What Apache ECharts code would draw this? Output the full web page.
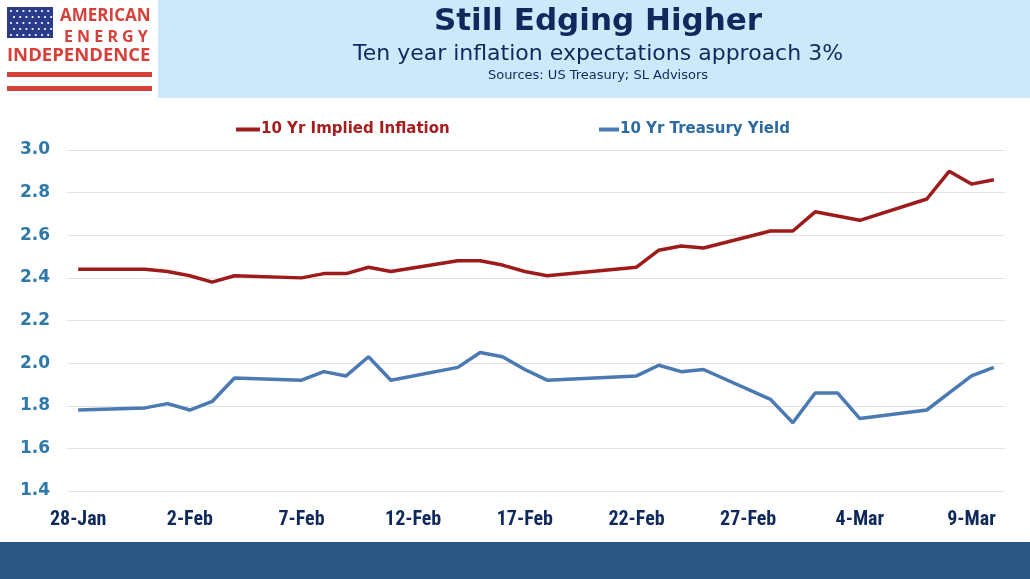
<!DOCTYPE html>
<html lang="en">
<head>
<meta charset="UTF-8">
<title>Still Edging Higher</title>
<script src="https://cdn.jsdelivr.net/npm/echarts@6/dist/echarts.min.js"></script>
<style>
  html, body { margin: 0; padding: 0; background: #fff; }
  #main { width: 1030px; height: 579px; }
</style>
</head>
<body>
<div id="main"></div>
<script>
// trading days (2022)
var dates = [
  '2022-01-28', '2022-01-31', '2022-02-01', '2022-02-02', '2022-02-03', '2022-02-04',
  '2022-02-07', '2022-02-08', '2022-02-09', '2022-02-10', '2022-02-11',
  '2022-02-14', '2022-02-15', '2022-02-16', '2022-02-17', '2022-02-18',
  '2022-02-22', '2022-02-23', '2022-02-24', '2022-02-25',
  '2022-02-28', '2022-03-01', '2022-03-02', '2022-03-03', '2022-03-04',
  '2022-03-07', '2022-03-08', '2022-03-09', '2022-03-10'
];
var impliedInflation = [
  2.44, 2.44, 2.43, 2.41, 2.38, 2.41,
  2.40, 2.42, 2.42, 2.45, 2.43,
  2.48, 2.48, 2.46, 2.43, 2.41,
  2.45, 2.53, 2.55, 2.54,
  2.62, 2.62, 2.71, 2.69, 2.67,
  2.77, 2.90, 2.84, 2.86
];
var treasuryYield = [
  1.78, 1.79, 1.81, 1.78, 1.82, 1.93,
  1.92, 1.96, 1.94, 2.03, 1.92,
  1.98, 2.05, 2.03, 1.97, 1.92,
  1.94, 1.99, 1.96, 1.97,
  1.83, 1.72, 1.86, 1.86, 1.74,
  1.78, 1.86, 1.94, 1.98
];
var tickDates = ['2022-01-28', '2022-02-02', '2022-02-07', '2022-02-12', '2022-02-17',
  '2022-02-22', '2022-02-27', '2022-03-04', '2022-03-09'];
var monthNames = ['Jan', 'Feb', 'Mar', 'Apr', 'May', 'Jun', 'Jul', 'Aug', 'Sep', 'Oct', 'Nov', 'Dec'];

function ts(s) {
  var p = s.split('-');
  return Date.UTC(+p[0], +p[1] - 1, +p[2]);
}
var HALF_DAY = 12 * 3600 * 1000;

var inflData = dates.map(function (d, i) { return [ts(d), impliedInflation[i]]; });
var yieldData = dates.map(function (d, i) { return [ts(d), treasuryYield[i]]; });

// logo stars
var stars = [];
for (var r = 0; r < 5; r++) {
  for (var c = 0; c < 7; c++) {
    stars.push({
      type: 'circle',
      shape: { cx: 11 + c * 6.2 + (r % 2) * 3, cy: 11 + r * 6, r: 1.1 },
      style: { fill: '#ffffff' }
    });
  }
}

var logo = [
  { type: 'rect', shape: { x: 7, y: 7, width: 46, height: 31 }, style: { fill: '#2b3b8c' } }
].concat(stars).concat([
  { type: 'text', left: 60, top: 8, style: { text: 'AMERICAN', font: 'bold 17px "Open Sans", sans-serif', fill: '#d6403a' } },
  { type: 'text', left: 64, top: 29, style: { text: 'E N E R G Y', font: 'bold 16px "Open Sans", sans-serif', fill: '#d6403a' } },
  { type: 'text', left: 7, top: 46, style: { text: 'INDEPENDENCE', font: 'bold 18.5px "Open Sans", sans-serif', fill: '#d6403a' } },
  { type: 'rect', shape: { x: 7, y: 72, width: 145, height: 5 }, style: { fill: '#d6403a' } },
  { type: 'rect', shape: { x: 7, y: 86, width: 145, height: 5 }, style: { fill: '#d6403a' } }
]);

var chart = echarts.init(document.getElementById('main'));
chart.setOption({
  backgroundColor: '#ffffff',
  animation: false,
  graphic: [
    { type: 'rect', shape: { x: 158, y: 0, width: 872, height: 98 }, style: { fill: '#cce9fb' }, z: -1 },
    { type: 'rect', shape: { x: 0, y: 542, width: 1030, height: 37 }, style: { fill: '#2a5783' }, z: -1 },
    { type: 'text', x: 598, y: 6, style: { text: 'Still Edging Higher', font: 'bold 31px Verdana, "DejaVu Sans", sans-serif', fill: '#10295c', align: 'center' } },
    { type: 'text', x: 598, y: 43, style: { text: 'Ten year inflation expectations approach 3%', font: '22px Verdana, "DejaVu Sans", sans-serif', fill: '#10295c', align: 'center' } },
    { type: 'text', x: 598, y: 69, style: { text: 'Sources: US Treasury; SL Advisors', font: '13px Verdana, "DejaVu Sans", sans-serif', fill: '#10295c', align: 'center' } }
  ].concat(logo),
  legend: [
    {
      data: [{ name: '10 Yr Implied Inflation', textStyle: { color: '#a51d1d' } }],
      left: 236, top: 122, padding: 0,
      icon: 'rect', itemWidth: 24, itemHeight: 4,
      textStyle: { fontSize: 15, fontWeight: 'bold', fontFamily: 'Verdana, "DejaVu Sans", sans-serif', padding: [0, 0, 0, -4] }
    },
    {
      data: [{ name: '10 Yr Treasury Yield', textStyle: { color: '#2c6aa0' } }],
      left: 599, top: 122, padding: 0,
      icon: 'rect', itemWidth: 20, itemHeight: 4,
      textStyle: { fontSize: 15, fontWeight: 'bold', fontFamily: 'Verdana, "DejaVu Sans", sans-serif', padding: [0, 0, 0, -4] }
    }
  ],
  grid: { left: 67, right: 25, top: 150, bottom: 88, containLabel: false },
  xAxis: {
    type: 'value',
    min: ts('2022-01-28') - HALF_DAY,
    max: ts('2022-03-10') + HALF_DAY,
    axisLine: { show: false },
    axisTick: { show: false },
    splitLine: { show: false },
    axisLabel: {
      customValues: tickDates.map(ts),
      margin: 19,
      color: '#10295c',
      fontSize: 20,
      fontWeight: 'bold',
      fontFamily: '"Liberation Sans Narrow", "Roboto Condensed", Roboto, sans-serif',
      formatter: function (v) {
        var d = new Date(v);
        return d.getUTCDate() + '-' + monthNames[d.getUTCMonth()];
      }
    }
  },
  yAxis: {
    type: 'value',
    min: 1.4,
    max: 3.0,
    interval: 0.2,
    axisLine: { show: false },
    axisTick: { show: false },
    splitLine: { lineStyle: { color: '#e2e2e2', width: 1 } },
    axisLabel: {
      margin: 17,
      color: '#2e79aa',
      fontSize: 17,
      fontWeight: 'bold',
      fontFamily: 'Verdana, "DejaVu Sans", sans-serif',
      formatter: function (v) { return v.toFixed(1); }
    }
  },
  series: [
    {
      name: '10 Yr Implied Inflation',
      type: 'line',
      data: inflData,
      showSymbol: false,
      symbol: 'none',
      color: '#9e1b1b',
      lineStyle: { width: 3.5, color: '#9e1b1b' }
    },
    {
      name: '10 Yr Treasury Yield',
      type: 'line',
      data: yieldData,
      showSymbol: false,
      symbol: 'none',
      color: '#4a79b3',
      lineStyle: { width: 3.5, color: '#4a79b3' }
    }
  ]
});
</script>
</body>
</html>
